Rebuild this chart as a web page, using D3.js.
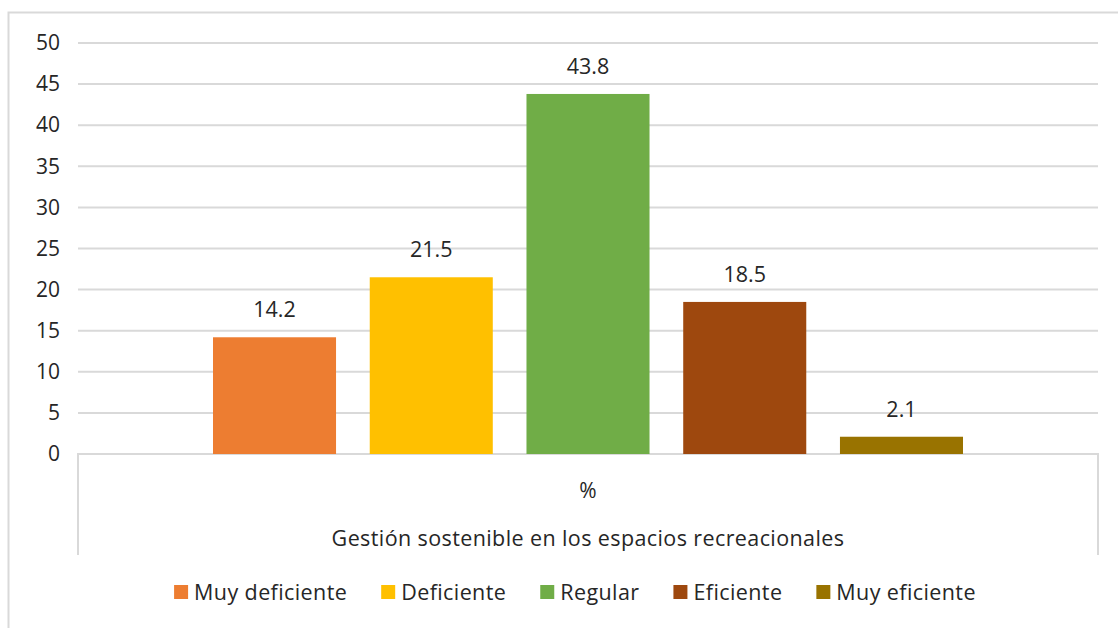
<!DOCTYPE html>
<html>
<head>
<meta charset="utf-8">
<script src="https://cdn.jsdelivr.net/npm/d3@7"></script>
<style>
body{margin:0;background:#fff;}
svg text{font-family:"Open Sans",Lato,sans-serif;fill:#262626;}
</style>
</head>
<body>
<svg id="chart" width="1118" height="628"></svg>
<script>
// datos
var categorias=["Muy deficiente","Deficiente","Regular","Eficiente","Muy eficiente"];
var valores=[14.2,21.5,43.8,18.5,2.1];
var colores=["#ED7D31","#FFC000","#70AD47","#9E480E","#997300"];
var ticks=[0,5,10,15,20,25,30,35,40,45,50];
var grupo="%";
var tituloX="Gestión sostenible en los espacios recreacionales";

var svg=d3.select("#chart");

// borde exterior (cortado a la derecha y abajo)
svg.append("rect").attr("x",8.5).attr("y",12.5).attr("width",1200).attr("height",700)
    .attr("fill","none").attr("stroke","#d9d9d9").attr("stroke-width",2);

var pLeft=78,pRight=1098,pTop=43,pBottom=454;

var y=d3.scaleLinear().domain([0,50]).range([pBottom,pTop]);
var x=d3.scaleBand().domain(categorias).range([213,963]).paddingInner(0.215).paddingOuter(0);

// lineas de cuadricula
svg.append("g").selectAll("line").data(ticks.filter(function(d){return d>0;})).enter().append("line")
    .attr("x1",pLeft).attr("x2",pRight)
    .attr("y1",function(d){return y(d)}).attr("y2",function(d){return y(d)})
    .attr("stroke","#d9d9d9").attr("stroke-width",2);

// eje y
var yAxis=d3.axisLeft(y).tickValues(ticks).tickSize(0).tickPadding(18);
var gy=svg.append("g").attr("transform","translate("+pLeft+",0)").call(yAxis);
gy.select(".domain").remove();
gy.selectAll("text").attr("font-size",21).style("font-family","'Open Sans',sans-serif").attr("fill","#262626");

// caja del eje de categorias
svg.append("path")
    .attr("d","M"+pLeft+","+555+"V"+pBottom+"H"+pRight+"V"+555)
    .attr("fill","none").attr("stroke","#d9d9d9").attr("stroke-width",2);

// barras
svg.append("g").selectAll("rect").data(valores).enter().append("rect")
    .attr("x",function(d,i){return x(categorias[i])})
    .attr("width",x.bandwidth())
    .attr("y",function(d){return y(d)})
    .attr("height",function(d){return y(0)-y(d)})
    .attr("fill",function(d,i){return colores[i]});

// etiquetas de valores
svg.append("g").selectAll("text").data(valores).enter().append("text")
    .attr("x",function(d,i){return x(categorias[i])+x.bandwidth()/2})
    .attr("y",function(d){return y(d)-20})
    .attr("text-anchor","middle").attr("font-size",21.5)
    .text(function(d){return d.toFixed(1)});

svg.append("text").attr("x",(pLeft+pRight)/2).attr("y",498).attr("text-anchor","middle")
    .attr("font-size",21).text(grupo);
svg.append("text").attr("x",(pLeft+pRight)/2).attr("y",546).attr("text-anchor","middle")
    .attr("font-size",21.5).attr("letter-spacing",0.4).text(tituloX);

// leyenda
var leg=svg.append("g");
var items=leg.selectAll("g").data(categorias).enter().append("g");
items.append("rect").attr("width",14).attr("height",14).attr("y",-15)
    .attr("fill",function(d,i){return colores[i]});
items.append("text").attr("x",20).attr("font-size",21.5).attr("letter-spacing",0.4).text(function(d){return d});
var pos=0;
items.each(function(){
    var w=this.getBBox().width;
    d3.select(this).attr("transform","translate("+pos+",0)");
    pos+=w+34;
});
pos-=34;
leg.attr("transform","translate("+(575-pos/2)+",600)");
</script>
</body>
</html>
